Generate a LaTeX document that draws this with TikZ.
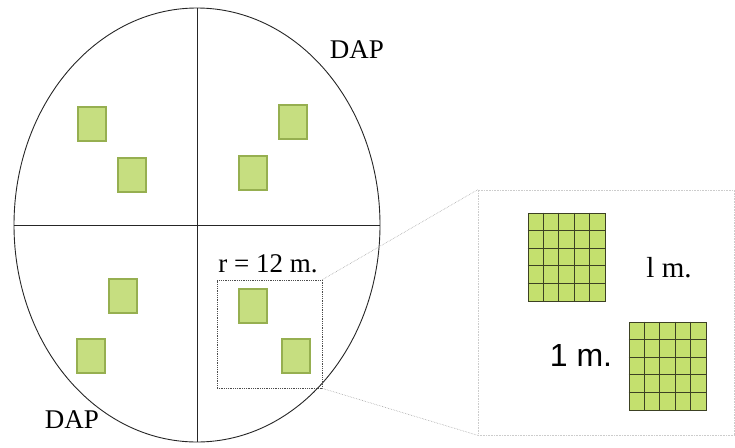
\documentclass[tikz,border=0pt]{standalone}
\usetikzlibrary{shapes.geometric,calc}
\usepackage{fontspec}
\setmainfont{Liberation Serif}
\newfontfamily\sansf{Liberation Sans}
\begin{document}
\begin{tikzpicture}[x=1pt,y=-1pt,
  plot/.style={draw=olivegr,fill=lightgr,line width=1.2pt,minimum width=28pt,minimum height=34pt,inner sep=0pt},
  gridsq/.style={draw=gridgr,fill=gridfill,line width=1pt,minimum width=77pt,minimum height=88pt,inner sep=0pt},
  lbl/.style={font=\fontsize{27}{29}\selectfont,inner sep=0pt},
  dotline/.style={draw=gray!70,densely dotted,line width=0.6pt}]
\definecolor{lightgr}{RGB}{198,222,128}
\definecolor{olivegr}{RGB}{150,175,80}
\definecolor{gridfill}{RGB}{196,224,110}
\definecolor{gridgr}{RGB}{60,65,35}
\useasboundingbox (0,0) rectangle (735,447);
% ellipse and divisions
\node[draw=black!85,ellipse,line width=0.9pt,minimum width=366pt,minimum height=434pt,inner sep=0pt] (plotE) at (197,225) {};
\draw[black!85,line width=0.9pt] (plotE.north) -- (plotE.south);
\draw[black!85,line width=0.9pt] (plotE.west) -- (plotE.east);
% sub-plots
\node[plot] (s1) at (92,124) {};
\node[plot] (s2) at (132,175) {};
\node[plot] (s3) at (293,122) {};
\node[plot] (s4) at (253,173) {};
\node[plot] (s5) at (123,296) {};
\node[plot] (s6) at (91,356) {};
\node[plot] (s7) at (253,306) {};
\node[plot] (s8) at (296,356) {};
% dashed selection box
\node[draw=gray!60!black,densely dotted,line width=0.8pt,minimum width=105pt,minimum height=108pt,inner sep=0pt] (sel) at (269.5,334) {};
\node[lbl] (r) at (268,264) {r = 12 m.};
% labels
\node[lbl] (dap1) at (357,50) {DAP};
\node[lbl] (dap2) at (72,420) {DAP};
% zoom panel
\node[draw=gray!40,densely dotted,line width=0.6pt,minimum width=256pt,minimum height=245pt,inner sep=0pt] (panel) at (606,312.5) {};
\draw[dotline] (sel.north east) -- (panel.north west);
\draw[dotline] (sel.south east) -- (panel.south west);
% grid squares
\node[gridsq] (g1) at (566.5,257) {};
\node[gridsq] (g2) at (667.5,366) {};
\foreach \g in {g1,g2}{
  \foreach \i in {1,2,3,4}{
    \draw[gridgr,line width=1.1pt] ($(\g.north west)!\i/5!(\g.north east)$) -- ($(\g.south west)!\i/5!(\g.south east)$);
    \draw[gridgr,line width=1.1pt] ($(\g.north west)!\i/5!(\g.south west)$) -- ($(\g.north east)!\i/5!(\g.south east)$);
  }
}
\node[lbl,font=\fontsize{29}{31}\selectfont] (m1) at (669,268) {l m.};
\node[lbl,font=\sansf\fontsize{32}{34}\selectfont] (m2) at (581,355) {1 m.};
\end{tikzpicture}
\end{document}
